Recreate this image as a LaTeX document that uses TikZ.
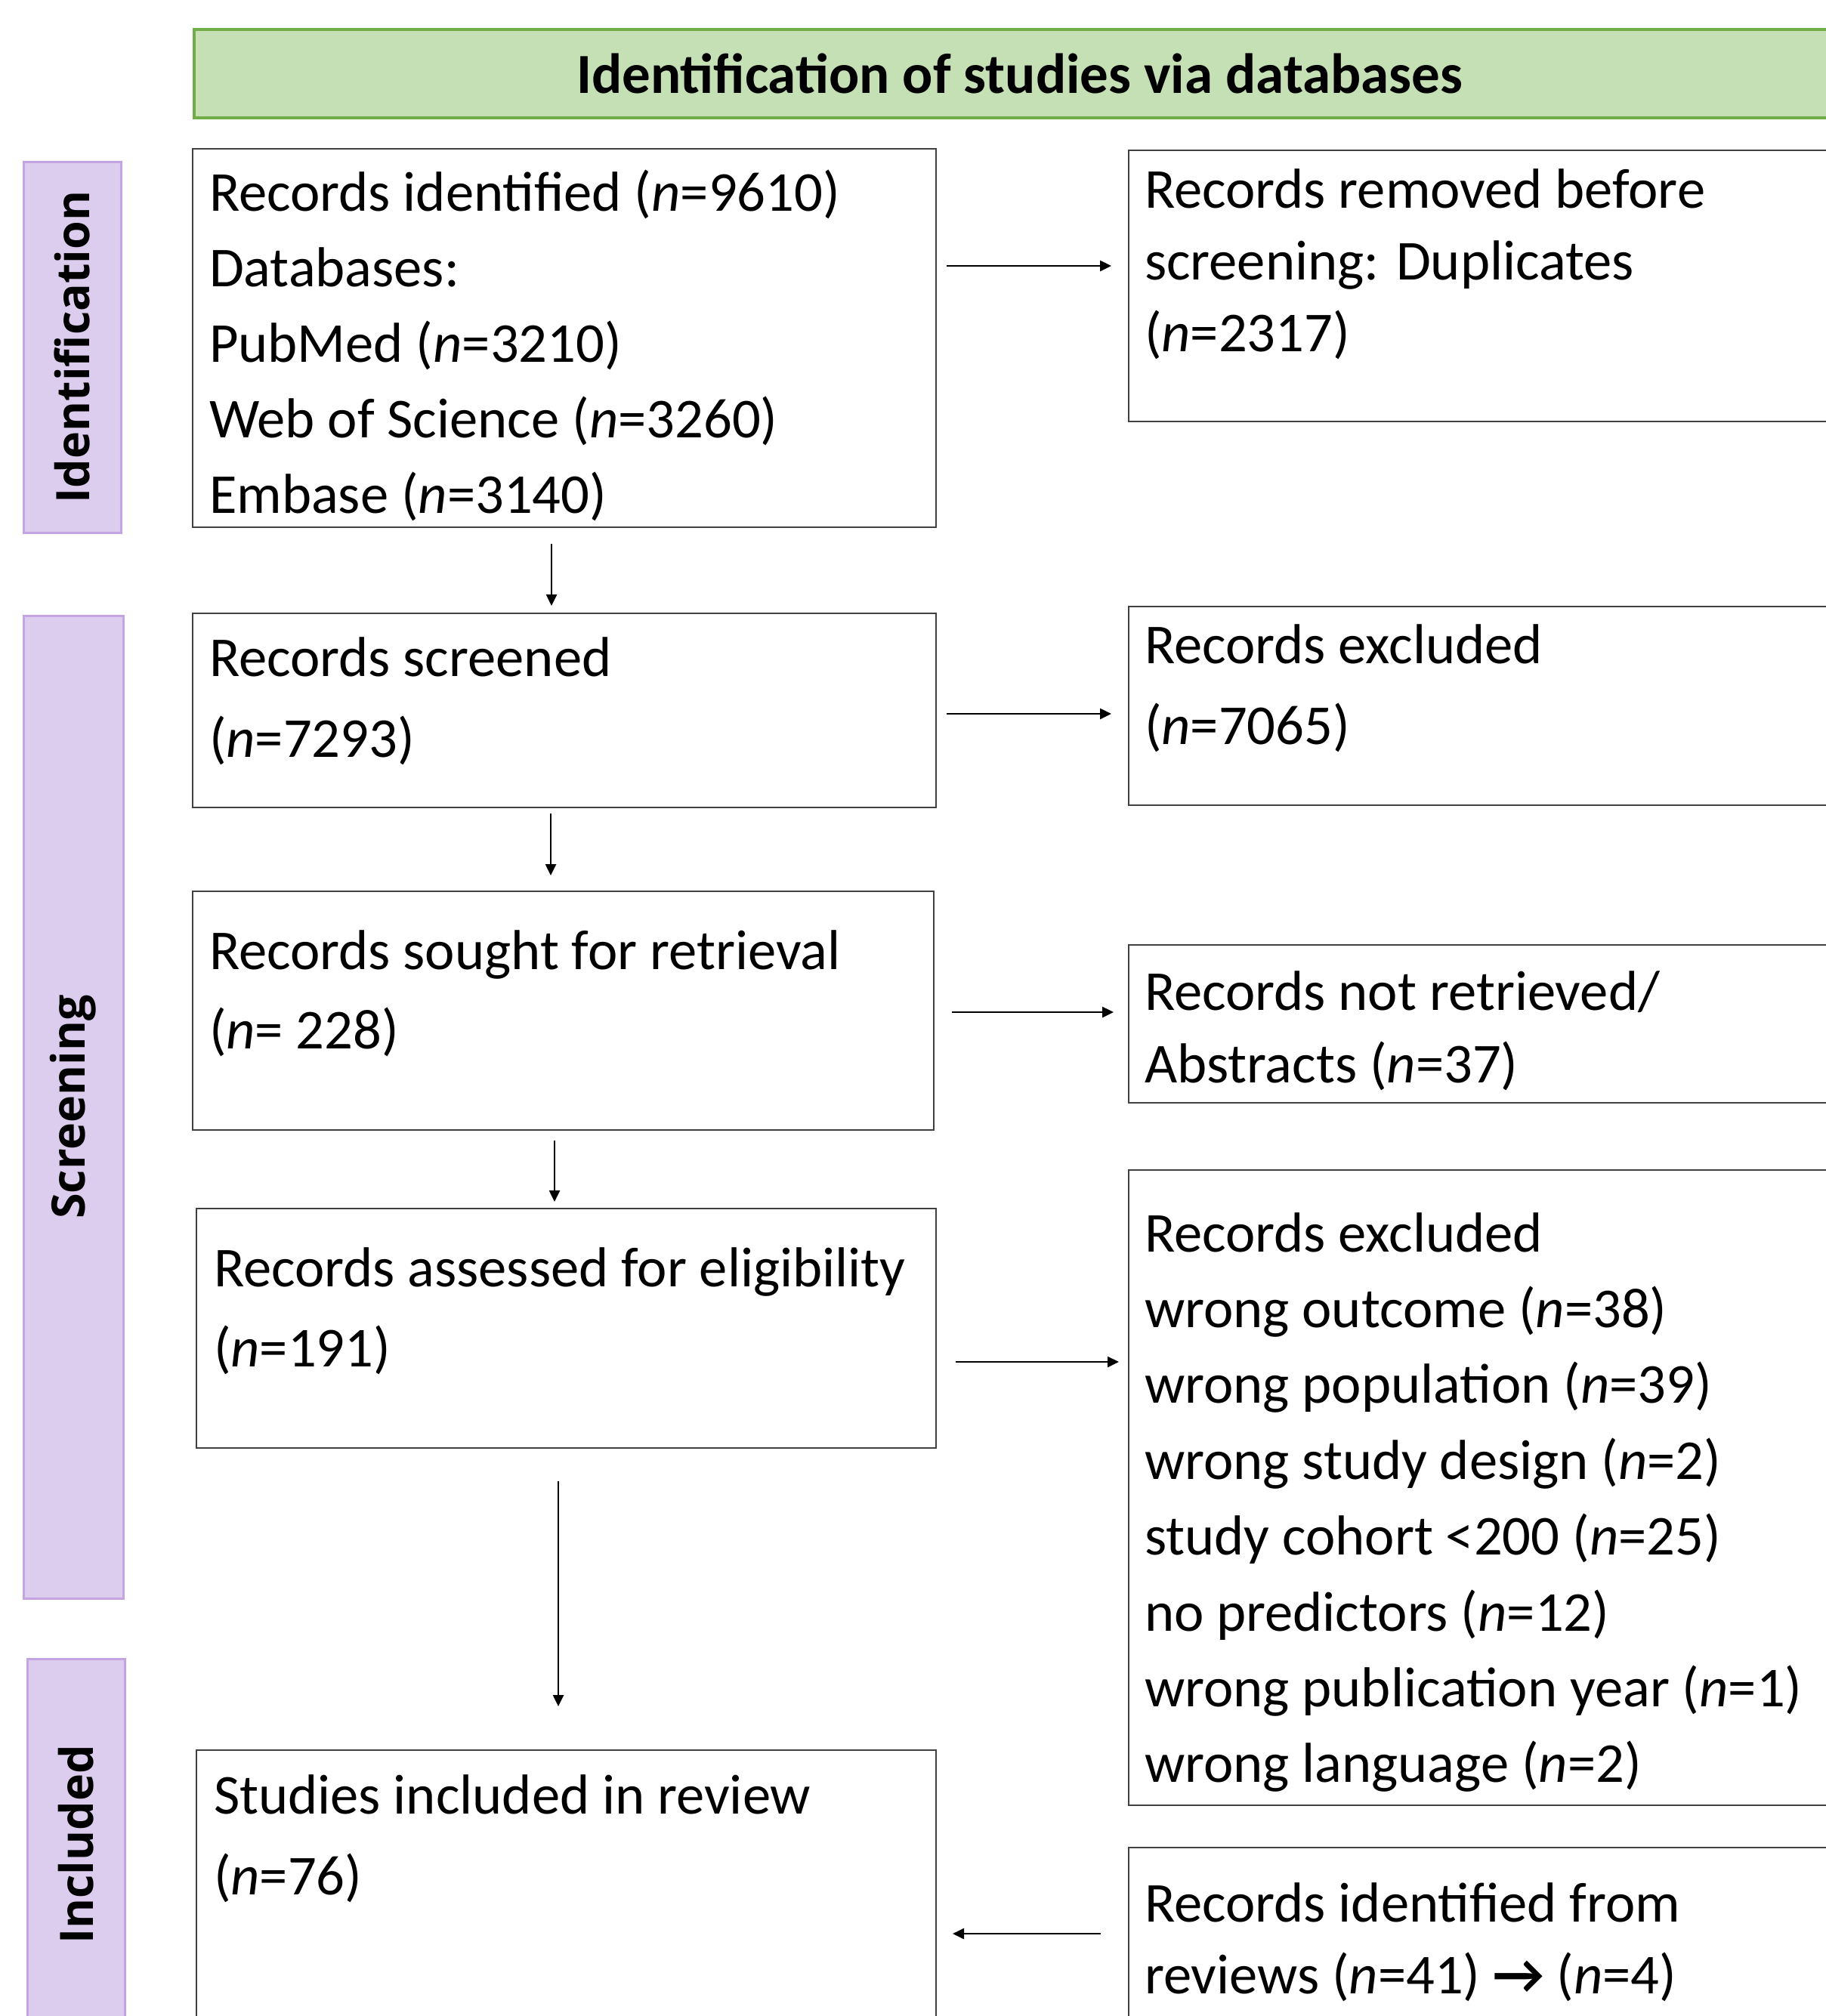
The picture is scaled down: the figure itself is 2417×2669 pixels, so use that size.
\documentclass[tikz,border=0pt]{standalone}
\usepackage{fontspec}
\setmainfont{Carlito}
\newfontfamily\labfont{Open Sans}
\newfontfamily\symfont{DejaVu Sans}
\usetikzlibrary{arrows.meta}
\definecolor{hdrF}{RGB}{197,224,180}
\definecolor{hdrB}{RGB}{112,173,71}
\definecolor{phF}{RGB}{220,204,237}
\definecolor{phB}{RGB}{196,164,226}
\newcommand{\tb}[2]{\parbox[t]{1100pt}{\fontsize{74.6}{#1}\selectfont #2}}
\newcommand{\nn}{\textit{n}}
\begin{document}
\begin{tikzpicture}[x=1pt,y=-1pt,
  box/.style={draw=black!75, line width=2pt, inner sep=0pt, outer sep=0pt, anchor=north west},
  txt/.style={anchor=base west, inner sep=0pt, outer sep=0pt},
  phase/.style={draw=phB, fill=phF, line width=3pt, inner sep=0pt, rotate=90,
    font=\labfont\bfseries\fontsize{61}{61}\selectfont},
  arr/.style={line width=2.5pt, -{Triangle[length=15pt,width=14pt]}}
]
\useasboundingbox (0,0) rectangle (2417,2669);
\clip (0,0) rectangle (2417,2669);

% header
\node[draw=hdrB, fill=hdrF, line width=4pt, anchor=north west, inner sep=0pt,
  minimum width=2185pt, minimum height=117pt,
  font=\bfseries\fontsize{75}{75}\selectfont] (hdr) at (255,37) {Identification of studies via databases};

% phase labels
\node[phase, minimum width=491pt, minimum height=129pt] (pid) at (95.5,459.5) {Identification};
\node[phase, minimum width=1301pt, minimum height=132pt] (psc) at (97,1465.5) {Screening};
\node[phase, minimum width=492pt, minimum height=129pt] (pin) at (100.5,2442) {Included};

% boxes
\node[box, minimum width=984pt, minimum height=501pt] (b1) at (255,197) {};
\node[box, minimum width=940pt, minimum height=359pt] (r1) at (1494,199) {};
\node[box, minimum width=984pt, minimum height=257pt] (b2) at (255,812) {};
\node[box, minimum width=940pt, minimum height=263pt] (r2) at (1494,803) {};
\node[box, minimum width=981pt, minimum height=316pt] (b3) at (255,1180) {};
\node[box, minimum width=940pt, minimum height=209pt] (r3) at (1494,1251) {};
\node[box, minimum width=979pt, minimum height=317pt] (b4) at (260,1600) {};
\node[box, minimum width=940pt, minimum height=841pt] (r4) at (1494,1549) {};
\node[box, minimum width=979pt, minimum height=400pt] (b5) at (260,2317) {};
\node[box, minimum width=940pt, minimum height=300pt] (r5) at (1494,2446) {};

% texts
\node[txt] (t1) at (277,279) {\tb{100}{Records identified (\nn=9610)\\Databases:\\PubMed (\nn=3210)\\Web of Science (\nn=3260)\\Embase (\nn=3140)}};
\node[txt] (tr1) at (1515,275) {\tb{95}{Records removed before\\screening: Duplicates\\(\nn=2317)}};
\node[txt] (t2) at (277,895) {\tb{107}{Records screened\\(\nn=7293)}};
\node[txt] (tr2) at (1515,878) {\tb{107}{Records excluded\\(\nn=7065)}};
\node[txt] (t3) at (277,1283) {\tb{105}{Records sought for retrieval\\(\nn= 228)}};
\node[txt] (tr3) at (1515,1337) {\tb{96}{Records not retrieved/\\Abstracts (\nn=37)}};
\node[txt] (t4) at (283,1703) {\tb{106}{Records assessed for eligibility\\(\nn=191)}};
\node[txt] (tr4) at (1515,1657) {\tb{100.4}{Records excluded\\wrong outcome (\nn=38)\\wrong population (\nn=39)\\wrong study design (\nn=2)\\study cohort <200 (\nn=25)\\no predictors (\nn=12)\\wrong publication year (\nn=1)\\wrong language (\nn=2)}};
\node[txt] (t5) at (283,2401) {\tb{107}{Studies included in review\\(\nn=76)}};
\node[txt] (tr5) at (1515,2544) {\tb{95}{Records identified from\\reviews (\nn=41) {\bfseries →} (\nn=4)}};

% arrow end points
\coordinate (a1s) at (1253,352);  \coordinate (a1e) at (1471,352);
\coordinate (a2s) at (1253,945);  \coordinate (a2e) at (1471,945);
\coordinate (a3s) at (1260,1340); \coordinate (a3e) at (1474,1340);
\coordinate (a4s) at (1265,1803); \coordinate (a4e) at (1481,1803);
\coordinate (a5s) at (1457,2560); \coordinate (a5e) at (1261,2560);
\coordinate (d1s) at (730,720);   \coordinate (d1e) at (730,802);
\coordinate (d2s) at (729,1077);  \coordinate (d2e) at (729,1159);
\coordinate (d3s) at (734,1510);  \coordinate (d3e) at (734,1591);
\coordinate (d4s) at (739,1961);  \coordinate (d4e) at (739,2259);

\draw[arr] (a1s) -- (a1e);
\draw[arr] (a2s) -- (a2e);
\draw[arr] (a3s) -- (a3e);
\draw[arr] (a4s) -- (a4e);
\draw[arr] (a5s) -- (a5e);
\draw[arr] (d1s) -- (d1e);
\draw[arr] (d2s) -- (d2e);
\draw[arr] (d3s) -- (d3e);
\draw[arr] (d4s) -- (d4e);
\end{tikzpicture}
\end{document}
